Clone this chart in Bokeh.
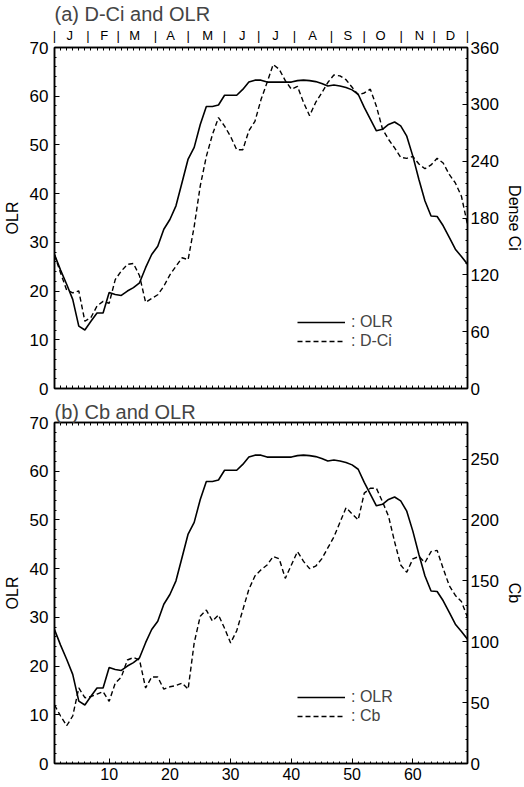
from bokeh.plotting import figure
from bokeh.models import (LinearAxis, Range1d, FixedTicker, Legend, LegendItem)
from bokeh.layouts import column
from bokeh.embed import file_html
from bokeh.resources import INLINE

FONT = "Liberation Sans"

pentad = list(range(1, 70))
olr = [27.5, 24.3, 21.4, 18.3, 12.8, 12.0, 13.8, 15.5, 15.5, 19.7,
       19.3, 19.1, 20.0, 20.7, 21.7, 24.8, 27.5, 29.2, 32.7, 34.7,
       37.5, 42.3, 47.1, 49.5, 54.2, 57.9, 57.9, 58.2, 60.2, 60.2,
       60.2, 61.4, 62.9, 63.3, 63.3, 62.9, 62.9, 62.9, 62.9, 62.9,
       63.2, 63.3, 63.2, 63.0, 62.6, 62.1, 62.3, 62.1, 61.8, 61.3,
       60.4, 57.7, 55.3, 52.9, 53.2, 54.2, 54.7, 53.9, 51.8, 47.7,
       42.9, 38.5, 35.4, 35.3, 33.4, 31.0, 28.6, 27.1, 25.5]
dci = [141, 122, 104, 101, 103, 71, 75, 87, 92, 90,
       115, 124, 131, 132, 119, 91, 95, 99, 108, 120,
       129, 138, 136, 171, 214, 245, 268, 286, 277, 266,
       252, 252, 272, 282, 305, 323, 342, 337, 325, 316,
       319, 302, 288, 302, 312, 323, 331, 330, 326, 318,
       310, 312, 316, 298, 274, 263, 254, 244, 243, 245,
       237, 232, 236, 243, 238, 226, 217, 203, 173]
cb = [48, 39, 31, 39, 62, 54, 55, 57, 59, 51,
      66, 71, 85, 87, 85, 62, 71, 71, 61, 63,
      64, 66, 61, 99, 121, 126, 117, 122, 111, 99,
      109, 126, 143, 154, 159, 163, 170, 168, 152, 163,
      174, 166, 160, 162, 168, 177, 186, 198, 210, 205,
      200, 222, 226, 226, 215, 203, 182, 163, 157, 168,
      170, 165, 174, 175, 160, 146, 138, 133, 120]

olr_ticks = [0, 10, 20, 30, 40, 50, 60, 70]
dci_ticks = [0, 60, 120, 180, 240, 300, 360]
cb_ticks = [0, 50, 100, 150, 200, 250]
x_ticks = [10, 20, 30, 40, 50, 60]

month_letters = ["J", "F", "M", "A", "M", "J", "J", "A", "S", "O", "N", "D"]
month_centers = [3.5, 9.2, 14.2, 20.1, 26.2, 31.9, 37.4, 43.5, 49.3, 54.7, 61.1, 66.2]
month_bounds = [1.0, 6.5, 11.5, 17.6, 23.0, 29.0, 34.6, 40.5, 46.6, 52.0, 58.1, 63.5, 69.0]

LEFT = 53
RIGHT = 55
FW = 413
FH = 341


def style_axis(ax, size="17px"):
    ax.axis_line_color = "black"
    ax.axis_line_width = 1.5
    ax.major_tick_in = 5
    ax.major_tick_out = 0
    ax.minor_tick_in = 2
    ax.minor_tick_out = 0
    ax.major_tick_line_color = "black"
    ax.minor_tick_line_color = "black"
    ax.major_label_text_font = FONT
    ax.major_label_text_color = "black"
    ax.major_label_text_font_size = size
    ax.axis_label_text_font = FONT
    ax.axis_label_text_font_style = "normal"
    ax.axis_label_text_font_size = "16px"
    ax.axis_label_text_color = "black"


def make_panel(title, right_max, right_ticks, right_label, series,
               series_label, top_border, bottom_border, months, xlabels):
    p = figure(frame_width=FW, frame_height=FH,
               x_range=Range1d(1, 69), y_range=Range1d(0, 70),
               output_backend="svg", toolbar_location=None,
               x_axis_location=None, y_axis_location=None,
               min_border_left=LEFT, min_border_right=RIGHT,
               min_border_top=top_border, min_border_bottom=bottom_border)
    p.extra_y_ranges = {"r": Range1d(0, right_max)}
    p.xgrid.visible = False
    p.ygrid.visible = False
    p.outline_line_color = "black"
    p.outline_line_width = 1.5
    p.background_fill_color = "white"
    p.border_fill_color = "white"

    p.title.text = title
    p.title.align = "left"
    p.title.text_font = FONT
    p.title.text_font_size = "20px"
    p.title.text_font_style = "normal"
    p.title.standoff = 0
    p.title.offset = 0

    # bottom axis
    if xlabels:
        xa = LinearAxis(ticker=FixedTicker(ticks=x_ticks, minor_ticks=pentad))
        style_axis(xa, size="16px")
        xa.major_label_standoff = 4
    else:
        xa = LinearAxis(ticker=FixedTicker(ticks=[], minor_ticks=pentad))
        style_axis(xa)
        xa.minor_tick_in = 3
    p.add_layout(xa, "below")

    # left axis
    ya = LinearAxis(ticker=FixedTicker(ticks=olr_ticks, minor_ticks=list(range(0, 71, 2))))
    style_axis(ya)
    ya.axis_label = "OLR"
    ya.major_label_standoff = 6
    ya.axis_label_standoff = 6
    p.add_layout(ya, "left")

    # right axis
    step = right_ticks[1] - right_ticks[0]
    nminor = int(right_max / step * 5)
    ra = LinearAxis(y_range_name="r",
                    ticker=FixedTicker(ticks=right_ticks,
                                       minor_ticks=[i * step / 5 for i in range(0, nminor + 1)]))
    style_axis(ra)
    ra.axis_label = right_label
    ra.major_label_standoff = 3
    ra.axis_label_standoff = 4
    p.add_layout(ra, "right")

    # top axis
    if months:
        ticks = month_bounds + month_centers
        overrides = {b: "|" for b in month_bounds}
        overrides.update({c: m for c, m in zip(month_centers, month_letters)})
        ta = LinearAxis(ticker=FixedTicker(ticks=ticks, minor_ticks=pentad),
                        major_label_overrides=overrides)
        style_axis(ta, size="13px")
        ta.major_tick_in = 0
        ta.major_tick_out = 0
        ta.minor_tick_in = 3
        ta.major_label_standoff = 5
    else:
        ta = LinearAxis(ticker=FixedTicker(ticks=[], minor_ticks=pentad))
        style_axis(ta)
        ta.minor_tick_in = 3
    p.add_layout(ta, "above")

    r1 = p.line(pentad, olr, line_color="black", line_width=1.6)
    r2 = p.line(pentad, series, y_range_name="r", line_color="black",
                line_width=1.4, line_dash="5 3")

    legend = Legend(items=[LegendItem(label=": OLR", renderers=[r1]),
                           LegendItem(label=series_label, renderers=[r2])],
                    location=(243, 38), glyph_width=48, glyph_height=18,
                    label_height=18, spacing=1, padding=0, margin=0,
                    border_line_color=None, background_fill_alpha=0,
                    label_text_font=FONT, label_text_font_size="16px",
                    label_standoff=6)
    p.add_layout(legend)
    return p


p1 = make_panel("(a) D-Ci and OLR", 360, dci_ticks, "Dense Ci", dci, ": D-Ci",
                45, 10, True, False)
p2 = make_panel("(b) Cb and OLR", 280, cb_ticks, "Cb", cb, ": Cb",
                24, 22, False, True)

layout = column(p1, p2, spacing=0)
open("out.html", "w").write(file_html(layout, INLINE))
